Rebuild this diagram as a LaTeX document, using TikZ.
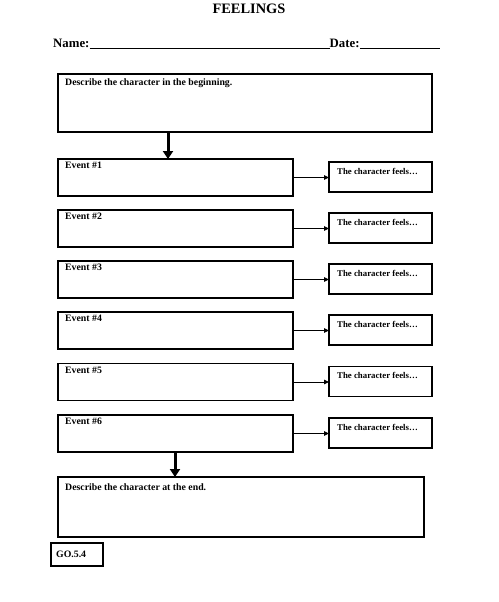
\documentclass[tikz,border=0pt]{standalone}
\usepackage{fontspec}
\setmainfont{Liberation Serif}
\usetikzlibrary{arrows.meta}
\tikzset{
  box/.style={draw=black, line width=1.6pt, anchor=north west, inner sep=0pt, outer sep=0pt},
  txt/.style={anchor=base west, inner sep=0pt, font=\fontsize{9.8}{11}\selectfont\bfseries},
  ftxt/.style={anchor=base west, inner sep=0pt, font=\fontsize{8.8}{10}\selectfont\bfseries},
  downarrow/.style={line width=3pt, -{Triangle[length=8pt,width=10pt]}},
  sidearrow/.style={line width=1pt, -{Triangle[length=5pt,width=4.5pt]}},
  hdr/.style={anchor=base west, inner sep=0pt, font=\fontsize{12.8}{14}\selectfont\bfseries},
}
\begin{document}
\begin{tikzpicture}[x=1pt,y=-1pt]
\useasboundingbox (0,0) rectangle (498,602);
% title
\node[anchor=base, inner sep=0pt, font=\fontsize{14.4}{16}\selectfont\bfseries] (title) at (249,14) {FEELINGS};
\node[hdr] (name) at (53,47.5) {Name:};
\node[hdr] (date) at (329.5,47.5) {Date:};
\coordinate (dateend) at (440,48.5);
\draw[line width=1pt] ([yshift=-1pt]name.base east) -- ([yshift=-1pt]date.base west);
\draw[line width=1pt] ([yshift=-1pt]date.base east) -- (dateend);
% top box
\node[box, minimum width=374pt, minimum height=58pt] (top) at (58,74) {};
\node[txt] (toptxt) at (65,85) {Describe the character in the beginning.};
% events
\foreach \i/\y in {1/159,2/210,3/261,4/312,5/363.5,6/415}{
  \node[box, minimum width=235pt, minimum height=37pt] (e\i) at (58,\y) {};
  \node[txt] (et\i) at (65,\y+9.5) {Event \#\i};
  \node[box, minimum width=103pt, minimum height=30pt] (f\i) at (329,\y+3) {};
  \node[ftxt] (ft\i) at (337,\y+15) {The character feels\ldots};
  \draw[sidearrow] (e\i.east) -- (e\i.east -| f\i.west);
}
% bottom box
\node[box, minimum width=366pt, minimum height=60pt] (bot) at (58,477) {};
\node[txt] (bottxt) at (65,490) {Describe the character at the end.};
% down arrows
\coordinate (a1) at (168,132);
\coordinate (a2) at (175,452);
\draw[downarrow] (a1) -- (a1 |- e1.north);
\draw[downarrow] (a2) -- (a2 |- bot.north);
% code box
\node[box, minimum width=52pt, minimum height=23pt] (go) at (51,543) {};
\node[txt] (gotxt) at (56,557.5) {GO.5.4};
\end{tikzpicture}
\end{document}
